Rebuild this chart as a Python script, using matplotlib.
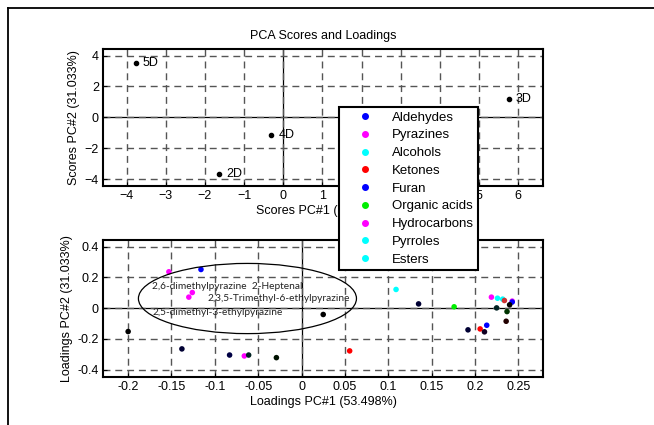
import matplotlib.pyplot as plt
from matplotlib.lines import Line2D
from matplotlib.patches import Ellipse

plt.rcParams["font.family"] = ["Liberation Sans", "DejaVu Sans"]

# scores
score_labels = ["5D", "4D", "2D", "3D"]
score_x = [-3.76, -0.30, -1.64, 5.75]
score_y = [3.50, -1.15, -3.64, 1.19]

# loadings
load_x = [-0.153, -0.116, -0.126, -0.130, -0.200, -0.138, -0.083, -0.066, -0.061,
          -0.029, 0.025, 0.0555, 0.109, 0.135, 0.176, 0.192, 0.206, 0.2136, 0.211,
          0.219, 0.226, 0.232, 0.234, 0.243, 0.243, 0.240, 0.225, 0.237, 0.236]
load_y = [0.237, 0.252, 0.102, 0.072, -0.152, -0.265, -0.305, -0.311, -0.305,
          -0.322, -0.041, -0.278, 0.122, 0.028, 0.009, -0.141, -0.135, -0.111, -0.154,
          0.072, 0.065, 0.059, 0.050, 0.046, 0.040, 0.022, 0.002, -0.022, -0.085]
load_c = ["magenta", "blue", "magenta", "magenta", "black", "#000033", "#000044", "magenta", "#002222",
          "#001100", "black", "red", "cyan", "#000033", "#00ee00", "#000033", "red", "blue", "#110022",
          "magenta", "cyan", "cyan", "#cc3333", "magenta", "blue", "black", "#002222", "#003300", "#220000"]

groups = ["Aldehydes", "Pyrazines", "Alcohols", "Ketones", "Furan",
          "Organic acids", "Hydrocarbons", "Pyrroles", "Esters"]
group_colors = ["blue", "magenta", "cyan", "red", "blue",
                "#00ee00", "magenta", "cyan", "cyan"]

notes = ["2,6-dimethylpyrazine  2-Heptenal", "2,3,5-Trimethyl-6-ethylpyrazine",
         "2,5-dimethyl-3-ethylpyrazine"]
note_x = [-0.172, -0.109, -0.172]
note_y = [0.143, 0.063, -0.028]

W, H = 654, 425
fig = plt.figure(figsize=(W / 100, H / 100), dpi=100)


def px_axes(l, t, r, b):
    return fig.add_axes([l / W, 1 - b / H, (r - l) / W, (b - t) / H])


def style(ax):
    ax.grid(True, linestyle=(0, (5, 3.5)), color="#555555", linewidth=1.0)
    ax.axhline(0, color="black", linewidth=0.9, zorder=1)
    ax.axvline(0, color="black", linewidth=0.9, zorder=1)
    for s in ax.spines.values():
        s.set_linewidth(1.5)
    ax.tick_params(direction="in", length=3, labelsize=9, pad=3)


ax1 = px_axes(103, 49, 543, 186)
style(ax1)
ax1.plot(score_x, score_y, "o", color="black", ms=3, zorder=3)
for lab, x, y in zip(score_labels, score_x, score_y):
    ax1.annotate(lab, (x, y), xytext=(5, 0), textcoords="offset points",
                 va="center", fontsize=9)
ax1.set_xlim(-4.6, 6.63)
ax1.set_ylim(-4.45, 4.43)
ax1.set_xticks(range(-4, 7))
ax1.set_yticks([-4, -2, 0, 2, 4])
ax1.set_title("PCA Scores and Loadings", fontsize=9, pad=7)
ax1.set_xlabel("Scores PC#1 (53.498%)", fontsize=9, labelpad=2)
ax1.set_ylabel("Scores PC#2 (31.033%)", fontsize=9, labelpad=3)

ax2 = px_axes(103, 240, 543, 377)
style(ax2)
ax2.scatter(load_x, load_y, c=load_c, s=16, zorder=3, linewidths=0)
ax2.add_patch(Ellipse((-0.0624, 0.063), 0.2515, 0.457, fill=False,
                      edgecolor="black", linewidth=0.9, zorder=4))
for t, x, y in zip(notes, note_x, note_y):
    ax2.text(x, y, t, fontsize=7.3, va="center", color="#222222",
             family=["Lato", "DejaVu Sans"], zorder=5)
ax2.set_xlim(-0.229, 0.2785)
ax2.set_ylim(-0.448, 0.444)
ax2.set_xticks([-0.2, -0.15, -0.1, -0.05, 0, 0.05, 0.1, 0.15, 0.2, 0.25])
ax2.set_xticklabels(["-0.2", "-0.15", "-0.1", "-0.05", "0", "0.05", "0.1", "0.15", "0.2", "0.25"])
ax2.set_yticks([-0.4, -0.2, 0, 0.2, 0.4])
ax2.set_yticklabels(["-0.4", "-0.2", "0", "0.2", "0.4"])
ax2.set_xlabel("Loadings PC#1 (53.498%)", fontsize=9, labelpad=2)
ax2.set_ylabel("Loadings PC#2 (31.033%)", fontsize=9, labelpad=3)

handles = [Line2D([], [], marker="o", linestyle="none", color=c, ms=4)
           for c in group_colors]
leg = fig.legend(handles, groups, loc="upper left",
                 bbox_to_anchor=(339 / W, 1 - 107 / H), fontsize=9.5,
                 handlelength=3.3, handletextpad=0.35, borderpad=0.33,
                 labelspacing=0.42, fancybox=False, framealpha=1,
                 edgecolor="black", borderaxespad=0)
leg.get_frame().set_linewidth(1.5)

# outer frame (left and top edges)
fig.add_artist(Line2D([8 / W, 8 / W], [0, 1 - 8 / H], color="black", linewidth=1.3))
fig.add_artist(Line2D([8 / W, 1], [1 - 8 / H, 1 - 8 / H], color="black", linewidth=1.3))

fig.savefig("out.png", dpi=100)
